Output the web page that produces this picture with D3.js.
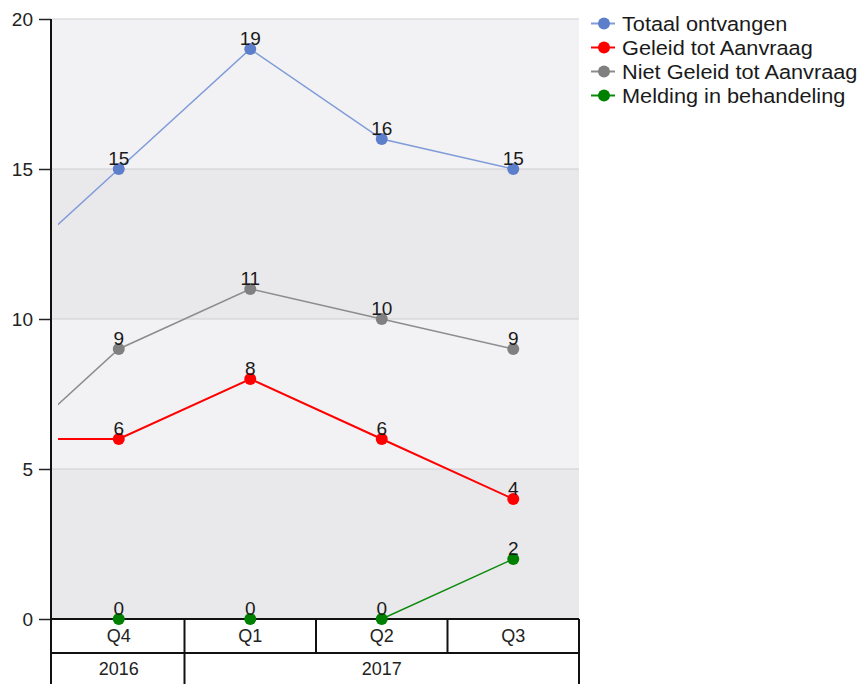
<!DOCTYPE html>
<html>
<head>
<meta charset="utf-8">
<script src="https://cdn.jsdelivr.net/npm/d3@7"></script>
<style>
  html, body { margin: 0; padding: 0; background: #fff; }
  svg { display: block; font-family: "Liberation Sans", Arial, sans-serif; }
</style>
</head>
<body>
<svg id="chart" width="862" height="684"></svg>
<script>
// ---- data ----
const quarters = ["Q4", "Q1", "Q2", "Q3"];
const quarterYears = ["2016", "2017", "2017", "2017"];
const years = ["2016", "2017"];
const seriesNames = ["Totaal ontvangen", "Geleid tot Aanvraag", "Niet Geleid tot Aanvraag", "Melding in behandeling"];
const totaalOntvangen = [15, 19, 16, 15];
const geleidTotAanvraag = [6, 8, 6, 4];
const nietGeleidTotAanvraag = [9, 11, 10, 9];
const meldingInBehandeling = [0, 0, 0, 2];
// value of the preceding quarter (Q3 2016), only visible as line stubs at the left edge
const previousQuarter = [11, 6, 5, 0];
const yTicks = [0, 5, 10, 15, 20];

(function () {
// ---- styles ----
const lineColors = ["#7f9bd8", "#ff0000", "#8c8c8c", "#0a8a0a"];
const markerColors = ["#5d7fcb", "#ff0000", "#808080", "#008000"];
const lineWidths = [1.5, 2, 1.5, 1.5];

const allSeries = [totaalOntvangen, geleidTotAanvraag, nietGeleidTotAanvraag, meldingInBehandeling];

const svg = d3.select("#chart");
const pLeft = 52, pRight = 579, pTop = 19, pBottom = 619;

const x = d3.scaleBand().domain(quarters).range([53, pRight]).paddingInner(0).paddingOuter(0);
const y = d3.scaleLinear().domain([0, 20]).range([pBottom, pTop]);
const cx = q => x(q) + x.bandwidth() / 2;

// background bands
const bandColors = ["#e9e8eb", "#f2f1f3"];
for (let i = 0; i < yTicks.length - 1; i++) {
  svg.append("rect")
    .attr("x", pLeft).attr("width", pRight - pLeft)
    .attr("y", y(yTicks[i + 1])).attr("height", y(yTicks[i]) - y(yTicks[i + 1]))
    .attr("fill", bandColors[i % 2]);
}
// gridlines
svg.append("g").selectAll("line").data(yTicks.filter(d => d > 0)).join("line")
  .attr("x1", pLeft).attr("x2", pRight)
  .attr("y1", d => y(d)).attr("y2", d => y(d))
  .attr("stroke", "#cfcfd2").attr("stroke-width", 1.2);

// y axis
const yAxis = d3.axisLeft(y).tickValues(yTicks).tickSize(12).tickPadding(6).tickSizeOuter(0);
const ga = svg.append("g").attr("transform", `translate(51,0)`).call(yAxis);
ga.select(".domain").remove();
ga.selectAll(".tick line").attr("stroke", "#222").attr("stroke-width", 1.5);
ga.selectAll(".tick text").attr("font-size", 19).attr("fill", "#222")
  .attr("font-family", "Liberation Sans, Arial, sans-serif").attr("dy", "0.36em");

// clip for lines
svg.append("clipPath").attr("id", "plotclip").append("rect")
  .attr("x", 58).attr("y", 0).attr("width", pRight - 58).attr("height", 640);

const line = d3.line().x(d => d[0]).y(d => d[1]);
const step = x.step();

allSeries.forEach((vals, si) => {
  const pts = [[cx(quarters[0]) - step, y(previousQuarter[si])]]
    .concat(vals.map((v, i) => [cx(quarters[i]), y(v)]));
  svg.append("path")
    .attr("d", line(pts))
    .attr("clip-path", "url(#plotclip)")
    .attr("fill", "none")
    .attr("stroke", lineColors[si])
    .attr("stroke-width", lineWidths[si]);
});

// axis lines / table
const table = svg.append("g").attr("stroke", "#111").attr("stroke-width", 2);
table.append("line").attr("x1", 51).attr("x2", 51).attr("y1", pTop).attr("y2", 684);
table.append("line").attr("x1", 51).attr("x2", pRight).attr("y1", pBottom).attr("y2", pBottom);
table.append("line").attr("x1", 51).attr("x2", pRight).attr("y1", 653).attr("y2", 653);
quarters.forEach((q, i) => {
  const xe = x(q) + x.bandwidth();
  table.append("line").attr("x1", xe).attr("x2", xe).attr("y1", pBottom).attr("y2", 653);
});
// year group boundaries
years.forEach(yr => {
  const idx = quarterYears.map((d, i) => d === yr ? i : -1).filter(i => i >= 0);
  const xe = x(quarters[idx[idx.length - 1]]) + x.bandwidth();
  table.append("line").attr("x1", xe).attr("x2", xe).attr("y1", 653).attr("y2", 684);
});

// quarter labels
svg.append("g").selectAll("text").data(quarters).join("text")
  .attr("x", d => cx(d)).attr("y", 636).attr("dy", "0.36em")
  .attr("text-anchor", "middle").attr("font-size", 18).attr("fill", "#222")
  .text(d => d);
// year labels
svg.append("g").selectAll("text").data(years).join("text")
  .attr("x", yr => {
    const idx = quarterYears.map((d, i) => d === yr ? i : -1).filter(i => i >= 0);
    const x0 = x(quarters[idx[0]]), x1 = x(quarters[idx[idx.length - 1]]) + x.bandwidth();
    return (x0 + x1) / 2;
  })
  .attr("y", 669).attr("dy", "0.36em")
  .attr("text-anchor", "middle").attr("font-size", 18).attr("fill", "#222")
  .text(d => d);

// markers
allSeries.forEach((vals, si) => {
  svg.append("g").selectAll("circle").data(vals).join("circle")
    .attr("cx", (d, i) => cx(quarters[i])).attr("cy", d => y(d))
    .attr("r", 6).attr("fill", markerColors[si]);
});
// data labels
allSeries.forEach((vals, si) => {
  svg.append("g").selectAll("text").data(vals).join("text")
    .attr("x", (d, i) => cx(quarters[i])).attr("y", d => y(d) - 4)
    .attr("text-anchor", "middle").attr("font-size", 19).attr("fill", "#1a1a1a")
    .text(d => d);
});

// legend
const lg = svg.append("g");
seriesNames.forEach((name, si) => {
  const ly = 23.5 + si * 24;
  lg.append("line").attr("x1", 591).attr("x2", 615).attr("y1", ly).attr("y2", ly)
    .attr("stroke", lineColors[si]).attr("stroke-width", 2);
  lg.append("circle").attr("cx", 604).attr("cy", ly).attr("r", 6).attr("fill", markerColors[si]);
  lg.append("text").attr("transform", `translate(622,${ly}) scale(1.06,1)`).attr("dy", "0.36em")
    .attr("font-size", 20.5).attr("fill", "#1a1a1a").text(name);
});
})();
</script>
</body>
</html>
